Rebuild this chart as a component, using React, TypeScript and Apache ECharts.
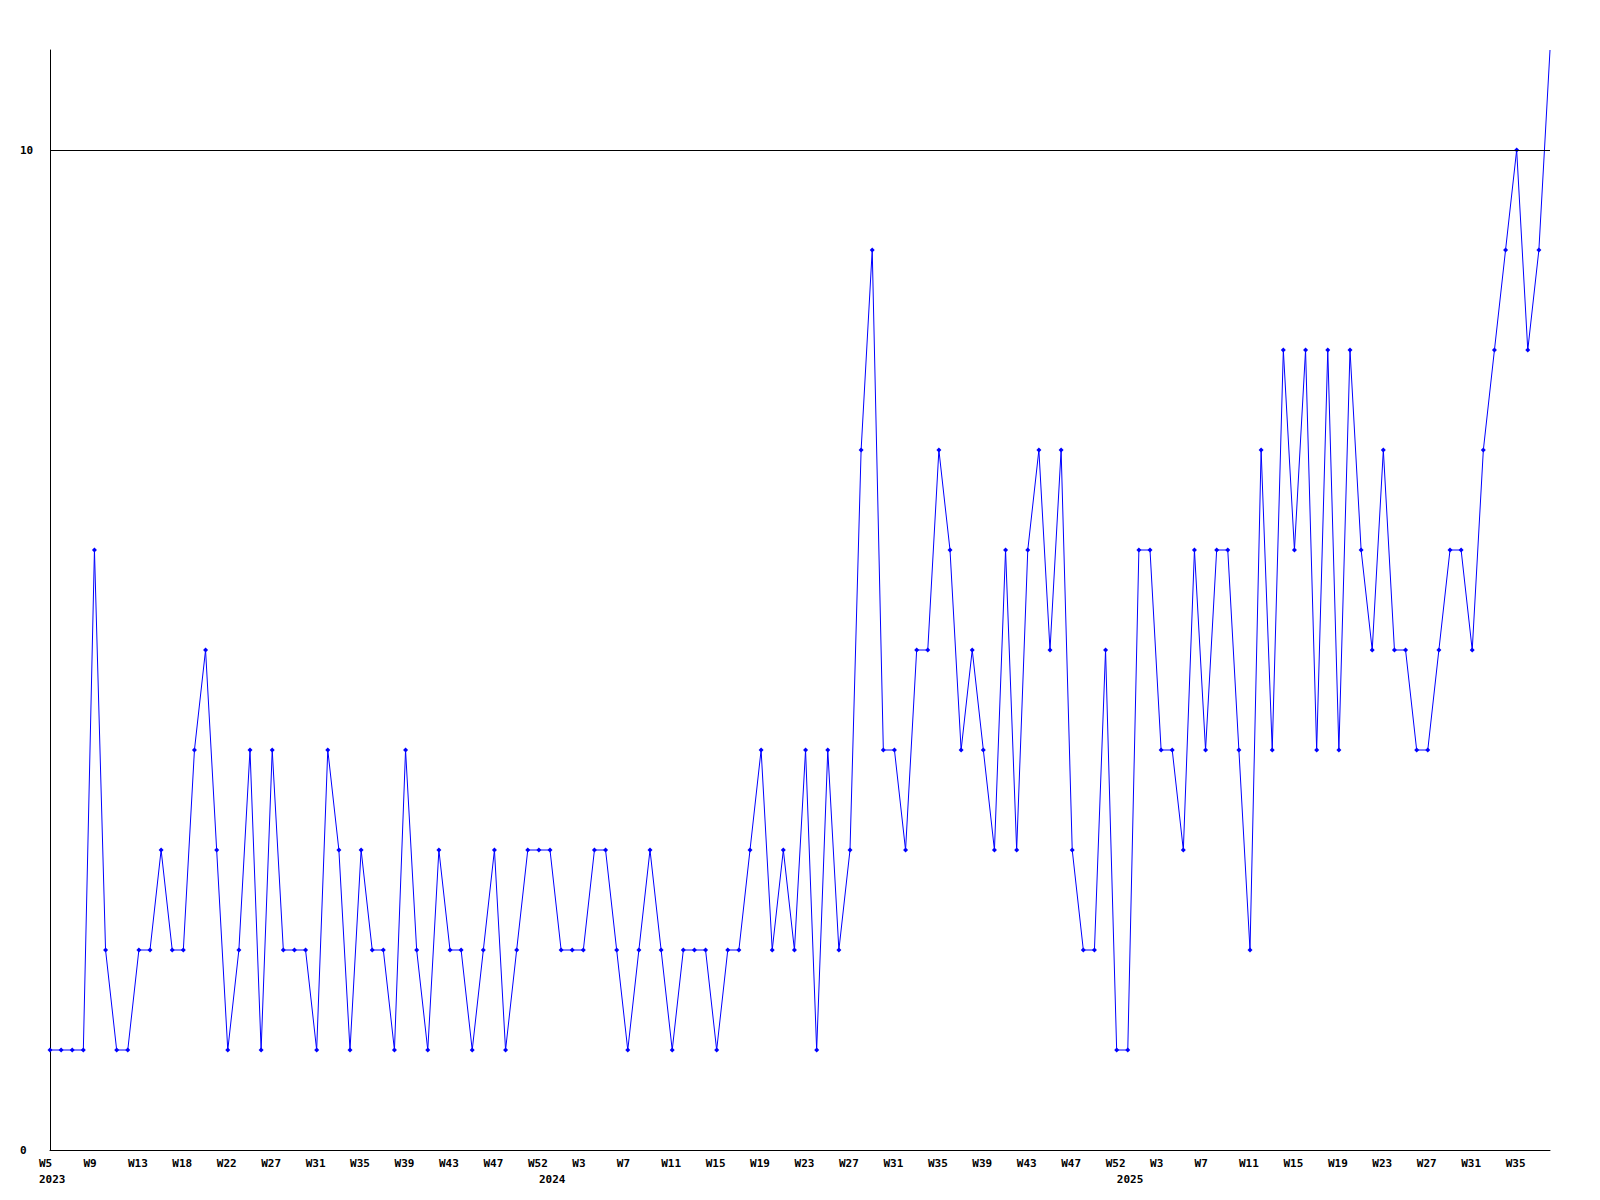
import React, { useEffect, useRef } from 'react';
import * as echarts from 'echarts';

// ISO-style week numbers present in the data, per year
const weeks2023 = [5, 6, 7, 8, 9, 10, 11, 12, 13, 14, 15, 17, 18, 19, 20, 21, 22, 23, 24, 26, 27, 28, 29, 30, 31, 32, 33, 34, 35, 36, 37, 38, 39, 40, 41, 42, 43, 44, 45, 46, 47, 48, 49, 51, 52];
const weeks2024 = [0, 1, 2, 3, 4, 5, 6, 7, 8, 9, 10, 11, 12, 13, 14, 15, 16, 17, 18, 19, 20, 21, 22, 23, 24, 25, 26, 27, 28, 29, 30, 31, 32, 33, 34, 35, 36, 37, 38, 39, 40, 41, 42, 43, 44, 45, 46, 47, 48, 49, 51, 52];
const weeks2025 = [0, 1, 2, 3, 4, 5, 6, 7, 8, 9, 10, 11, 12, 13, 14, 15, 16, 17, 18, 19, 20, 21, 22, 23, 24, 25, 26, 27, 28, 29, 30, 31, 32, 33, 34, 35, 36, 37, 38];
const years = ['2023', '2024', '2025'];

const values = [
  1, 1, 1, 1, 6, 2, 1, 1, 2, 2, 3, 2, 2, 4, 5, 3, 1, 2, 4, 1, 4, 2, 2, 2,
  1, 4, 3, 1, 3, 2, 2, 1, 4, 2, 1, 3, 2, 2, 1, 2, 3, 1, 2, 3, 3, 3, 2,
  2, 2, 3, 3, 2, 1, 2, 3, 2, 1, 2, 2, 2, 1, 2, 2, 3, 4, 2, 3, 2,
  4, 1, 4, 2, 3, 7, 9, 4, 4, 3, 5, 5, 7, 6, 4, 5, 4, 3, 6, 3, 6, 7, 5, 7, 3, 2, 2, 5, 1, 1,
  6, 6, 4, 4, 3, 6, 4, 6, 6, 4, 2, 7, 4, 8, 6, 8, 4, 8, 4, 8, 6, 5, 7, 5, 5, 4, 4, 5, 6, 6,
  5, 7, 8, 9, 10, 8, 9, 11,
];

const yTickLabels = [0, 10];
const yMax = 11;

const FONT = '"DejaVu Sans Mono", "Liberation Mono", monospace';

export default function App() {
  const ref = useRef<HTMLDivElement>(null);

  useEffect(() => {
    if (!ref.current) return;
    const chart = echarts.init(ref.current, undefined, { renderer: 'svg' });

    const weekSets = [weeks2023, weeks2024, weeks2025];
    const categories: string[] = [];
    const yearStart = new Set<number>();
    weekSets.forEach((ws, yi) => {
      yearStart.add(categories.length);
      ws.forEach((w) => categories.push(`${years[yi]}-W${w}`));
    });

    const labelText = {
      fontFamily: FONT,
      fontWeight: 'bold' as const,
      fontSize: 11,
      color: '#000',
    };

    chart.setOption({
      animation: false,
      backgroundColor: '#ffffff',
      grid: { left: 50, top: 50, width: 1500, height: 1100, containLabel: false },
      xAxis: [
        {
          type: 'category',
          data: categories,
          boundaryGap: false,
          position: 'bottom',
          axisLine: { show: true, onZero: false, lineStyle: { color: '#000', width: 1 } },
          axisTick: { show: false },
          splitLine: { show: false },
          axisLabel: {
            interval: 3,
            margin: 8,
            align: 'center',
            formatter: (v: string) => `{w|${v.split('-')[1]}}`,
            rich: { w: { ...labelText, width: 22, align: 'left' } },
          },
        },
        {
          type: 'category',
          data: categories,
          boundaryGap: false,
          position: 'bottom',
          offset: 16,
          axisLine: { show: false },
          axisTick: { show: false },
          splitLine: { show: false },
          axisLabel: {
            interval: (i: number) => yearStart.has(i),
            margin: 8,
            align: 'center',
            formatter: (v: string) => `{w|${v.split('-')[0]}}`,
            rich: { w: { ...labelText, width: 22, align: 'left' } },
          },
        },
      ],
      yAxis: {
        type: 'value',
        min: 0,
        max: yMax,
        interval: 10,
        axisLine: { show: true, lineStyle: { color: '#000', width: 1 } },
        axisTick: { show: false },
        splitLine: { show: false },
        axisLabel: {
          customValues: yTickLabels,
          align: 'left',
          margin: 30,
          ...labelText,
        },
      },
      series: [
        {
          type: 'line',
          data: values,
          xAxisIndex: 0,
          symbol: 'diamond',
          symbolSize: (v: number) => (v >= yMax ? 0 : 5),
          showSymbol: true,
          showAllSymbol: true,
          itemStyle: { color: '#0000ff' },
          lineStyle: { color: '#0000ff', width: 1 },
          markLine: {
            silent: true,
            symbol: 'none',
            label: { show: false },
            lineStyle: { color: '#000', width: 1, type: 'solid' },
            data: [{ yAxis: yTickLabels[1] }],
          },
        },
      ],
    });

    return () => chart.dispose();
  }, []);

  return (
    <div
      ref={ref}
      style={{ position: 'absolute', left: 0, top: 0, width: 1600, height: 1200, background: '#fff' }}
    />
  );
}
